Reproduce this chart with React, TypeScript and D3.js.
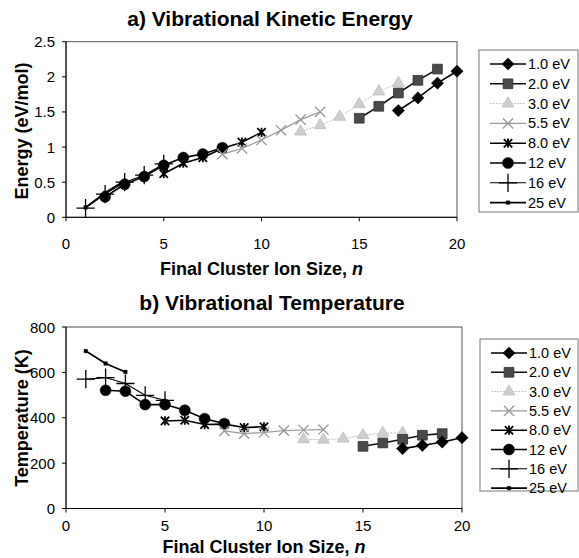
import React from "react";
import * as d3 from "d3";

const seriesNames = ["1.0 eV", "2.0 eV", "3.0 eV", "5.5 eV", "8.0 eV", "12 eV", "16 eV", "25 eV"];

// Energy (eV/mol) vs n
const e1_0 = [[17, 1.52], [18, 1.7], [19, 1.91], [20, 2.08]];
const e2_0 = [[15, 1.41], [16, 1.58], [17, 1.77], [18, 1.95], [19, 2.11]];
const e3_0 = [[12, 1.22], [13, 1.31], [14, 1.43], [15, 1.61], [16, 1.79], [17, 1.91]];
const e5_5 = [[8, 0.9], [9, 0.98], [10, 1.1], [11, 1.24], [12, 1.39], [13, 1.5]];
const e8_0 = [[5, 0.62], [6, 0.77], [7, 0.85], [8, 0.98], [9, 1.07], [10, 1.21]];
const e12 = [[2, 0.29], [3, 0.47], [4, 0.58], [5, 0.74], [6, 0.85], [7, 0.9], [8, 0.99]];
const e16 = [[1, 0.13], [2, 0.33], [3, 0.5], [4, 0.6], [5, 0.76]];
const e25 = [[1, 0.14], [2, 0.35], [3, 0.52]];

// Temperature (K) vs n
const t1_0 = [[17, 264], [18, 278], [19, 293], [20, 312]];
const t2_0 = [[15, 274], [16, 289], [17, 305], [18, 323], [19, 330]];
const t3_0 = [[12, 305], [13, 303], [14, 308], [15, 323], [16, 333], [17, 333]];
const t5_5 = [[8, 342], [9, 330], [10, 335], [11, 343], [12, 346], [13, 348]];
const t8_0 = [[5, 386], [6, 389], [7, 370], [8, 372], [9, 357], [10, 360]];
const t12 = [[2, 521], [3, 517], [4, 458], [5, 458], [6, 433], [7, 396], [8, 374]];
const t16 = [[1, 570], [2, 577], [3, 551], [4, 499], [5, 477]];
const t25 = [[1, 694], [2, 639], [3, 602]];

const xTicks = [0, 5, 10, 15, 20];
const eTicks = [0, 0.5, 1, 1.5, 2, 2.5];
const tTicks = [0, 200, 400, 600, 800];

const energySeries = [e1_0, e2_0, e3_0, e5_5, e8_0, e12, e16, e25];
const tempSeries = [t1_0, t2_0, t3_0, t5_5, t8_0, t12, t16, t25];

const asteriskSym = {
  draw(ctx: any, size: number) {
    const r = Math.sqrt(size) / 2;
    ctx.moveTo(-r, -r); ctx.lineTo(r, r);
    ctx.moveTo(-r, r); ctx.lineTo(r, -r);
    ctx.moveTo(0, -r * 1.1); ctx.lineTo(0, r * 1.1);
  },
};

const diamondSym = {
  draw(ctx: any, size: number) {
    const r = Math.sqrt(size) / 2;
    ctx.moveTo(0, -r); ctx.lineTo(r, 0); ctx.lineTo(0, r); ctx.lineTo(-r, 0); ctx.closePath();
  },
};

type Style = {
  line: string; lw: number; dash?: string;
  sym: any; size: number; fill: string; stroke: string; sw: number;
};

const styles: Style[] = [
  { line: "#000", lw: 1.6, sym: diamondSym, size: 150, fill: "#000", stroke: "#000", sw: 0.5 },
  { line: "#111", lw: 1.6, sym: d3.symbolSquare, size: 95, fill: "#4a4a4a", stroke: "#333", sw: 0.8 },
  { line: "#c4c4c4", lw: 1, dash: "2,1", sym: d3.symbolTriangle, size: 60, fill: "#cfcfcf", stroke: "#bbb", sw: 0.8 },
  { line: "#999", lw: 1.2, sym: d3.symbolTimes, size: 70, fill: "none", stroke: "#999", sw: 1.3 },
  { line: "#000", lw: 1.6, sym: asteriskSym, size: 70, fill: "none", stroke: "#000", sw: 1.8 },
  { line: "#000", lw: 1.6, sym: d3.symbolCircle, size: 95, fill: "#000", stroke: "#000", sw: 0.5 },
  { line: "#000", lw: 1.1, sym: d3.symbolPlus, size: 110, fill: "none", stroke: "#000", sw: 1.3 },
  { line: "#000", lw: 1.6, sym: d3.symbolSquare, size: 12, fill: "#000", stroke: "#000", sw: 0.5 },
];

const FONT = "'Liberation Sans', Arial, Helvetica, sans-serif";

function Marker({ s, x, y }: { s: Style; x: number; y: number }) {
  const d = d3.symbol().type(s.sym).size(s.size)() as string;
  return <path d={d} transform={`translate(${x},${y})`} fill={s.fill} stroke={s.stroke} strokeWidth={s.sw} />;
}

function Panel(props: {
  title: string; titleX: number; titleY: number; ylabel: string; ylabelY: number;
  x0: number; x1: number; yTop: number; yBot: number;
  yDomain: [number, number]; yTicks: number[]; yFmt: (v: number) => string;
  series: number[][][]; tickLabelY: number; xTitleY: number;
  legX: number; legY: number; legH: number; legStep: number;
}) {
  const x = d3.scaleLinear().domain([0, 20]).range([props.x0, props.x1]);
  const y = d3.scaleLinear().domain(props.yDomain).range([props.yBot, props.yTop]);
  const line = d3.line<number[]>().x((d) => x(d[0])).y((d) => y(d[1]));
  const cx = (props.x0 + props.x1) / 2;
  return (
    <g>
      <text x={props.titleX} y={props.titleY} textAnchor="middle" fontFamily={FONT} fontWeight="bold" fontSize={21}>{props.title}</text>
      <rect x={props.x0} y={props.yTop} width={props.x1 - props.x0} height={props.yBot - props.yTop} fill="none" stroke="#555" strokeWidth={1} />
      <line x1={props.x0} x2={props.x0} y1={props.yTop} y2={props.yBot} stroke="#000" strokeWidth={1} />
      <line x1={props.x0} x2={props.x1} y1={props.yBot} y2={props.yBot} stroke="#000" strokeWidth={1} />
      {props.yTicks.map((t) => (
        <g key={"y" + t}>
          <line x1={props.x0 - 4} x2={props.x0} y1={y(t)} y2={y(t)} stroke="#000" />
          <text x={props.x0 - 11} y={y(t) + 5.5} textAnchor="end" fontFamily={FONT} fontSize={15}>{props.yFmt(t)}</text>
        </g>
      ))}
      {xTicks.map((t) => (
        <g key={"x" + t}>
          <line x1={x(t)} x2={x(t)} y1={props.yBot} y2={props.yBot + 4} stroke="#000" />
          <text x={x(t)} y={props.tickLabelY} textAnchor="middle" fontFamily={FONT} fontSize={15}>{t}</text>
        </g>
      ))}
      <text x={cx} y={props.xTitleY} textAnchor="middle" fontFamily={FONT} fontWeight="bold" fontSize={18}>
        Final Cluster Ion Size, <tspan fontStyle="italic">n</tspan>
      </text>
      <text transform={`translate(28,${props.ylabelY}) rotate(-90)`} textAnchor="middle" fontFamily={FONT} fontWeight="bold" fontSize={18}>{props.ylabel}</text>
      {props.series.map((data, i) => {
        const s = styles[i];
        return (
          <g key={"s" + i}>
            <path d={line(data) as string} fill="none" stroke={s.line} strokeWidth={s.lw} strokeDasharray={s.dash} />
            {data.map((d, j) => <Marker key={j} s={s} x={x(d[0])} y={y(d[1])} />)}
          </g>
        );
      }).reverse()}
      <rect x={props.legX} y={props.legY} width={578 - props.legX} height={props.legH} fill="#fff" stroke="#777" strokeWidth={1} />
      {seriesNames.map((name, i) => {
        const s = styles[i];
        const ly = props.legY + 14 + i * props.legStep;
        const lx = props.legX + 11;
        return (
          <g key={"l" + i}>
            <line x1={lx} x2={lx + 36} y1={ly} y2={ly} stroke={s.line} strokeWidth={s.lw} strokeDasharray={s.dash} />
            <Marker s={s} x={lx + 18} y={ly} />
            <text x={lx + 38} y={ly + 5} fontFamily={FONT} fontSize={14.5}>{name}</text>
          </g>
        );
      })}
    </g>
  );
}

export default function App() {
  return (
    <svg width={579} height={558} style={{ position: "absolute", left: 0, top: 0 }}>
      <rect width={579} height={558} fill="#fff" />
      <Panel title="a) Vibrational Kinetic Energy" titleX={270} titleY={26} ylabel="Energy (eV/mol)" ylabelY={131}
        x0={66} x1={457} yTop={41.7} yBot={217.3} yDomain={[0, 2.5]} yTicks={eTicks}
        yFmt={(v) => String(v)} series={energySeries} tickLabelY={249} xTitleY={275}
        legX={479} legY={50} legH={162} legStep={19.8} />
      <Panel title="b) Vibrational Temperature" titleX={272} titleY={310} ylabel="Temperature (K)" ylabelY={418}
        x0={66} x1={462} yTop={327} yBot={508.5} yDomain={[0, 800]} yTicks={tTicks}
        yFmt={(v) => String(v)} series={tempSeries} tickLabelY={531} xTitleY={553}
        legX={480} legY={339} legH={152} legStep={19.3} />
    </svg>
  );
}
